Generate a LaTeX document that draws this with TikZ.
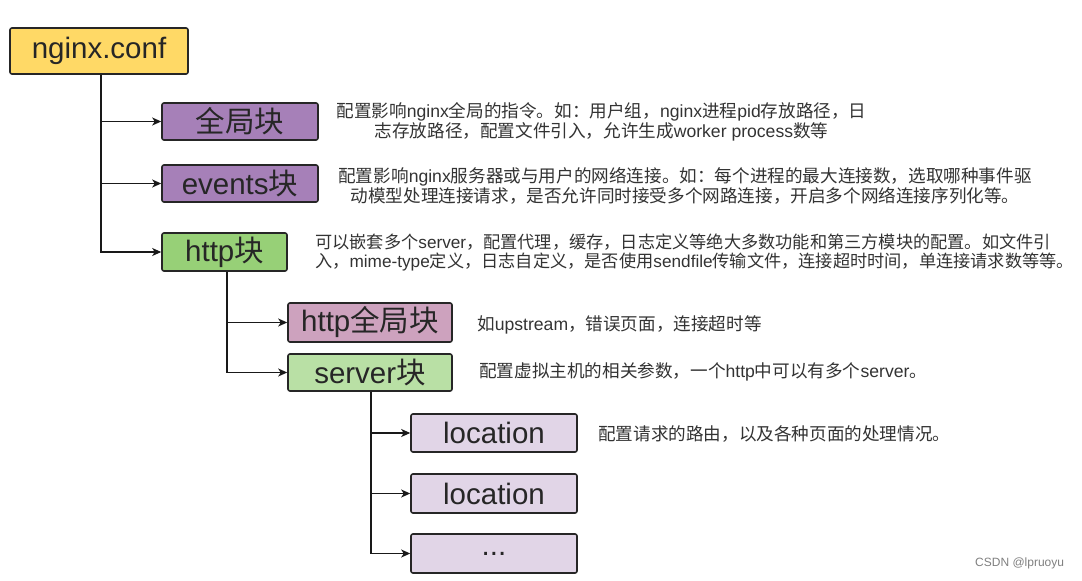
\documentclass[tikz,border=0pt]{standalone}
\usepackage{fontspec}
\setmainfont{Liberation Sans}
\newfontfamily\cjkfont{Noto Sans CJK SC}
\newcount\mycjkcnt
\XeTeXinterchartokenstate=1
\newXeTeXintercharclass\cjkcls
\mycjkcnt="3000
\loop \XeTeXcharclass\mycjkcnt=\cjkcls \advance\mycjkcnt by 1 \ifnum\mycjkcnt<"A000 \repeat
\mycjkcnt="FF00
\loop \XeTeXcharclass\mycjkcnt=\cjkcls \advance\mycjkcnt by 1 \ifnum\mycjkcnt<"FFF0 \repeat
\XeTeXinterchartoks 0 \cjkcls = {\begingroup\cjkfont}
\XeTeXinterchartoks 4095 \cjkcls = {\begingroup\cjkfont}
\XeTeXinterchartoks \cjkcls 0 = {\endgroup}
\XeTeXinterchartoks \cjkcls 4095 = {\endgroup}
\usetikzlibrary{arrows.meta}
\definecolor{cyellow}{HTML}{FFD966}
\definecolor{cpurple}{HTML}{A680B8}
\definecolor{cgreen}{HTML}{97D077}
\definecolor{cpink}{HTML}{CDA2BE}
\definecolor{clgreen}{HTML}{B9E0A5}
\definecolor{clav}{HTML}{E1D5E7}
\definecolor{ctext}{HTML}{333333}
\tikzset{
  blk/.style={draw=black!85, line width=1.6pt, rounded corners=2pt, inner sep=0pt,
    font=\fontsize{29.5}{32}\selectfont, text=black!85},
  desc/.style={font=\fontsize{17.6}{18.5}\selectfont, text=ctext, inner sep=0pt},
  arr/.style={line width=1.2pt, draw=black!90, -{Stealth[length=9pt,width=8pt,inset=2.5pt]}},
}
\begin{document}
\begin{tikzpicture}[x=1pt,y=-1pt]
\useasboundingbox[fill=white] (0,0) rectangle (1082,581);
\node[blk, fill=cyellow, minimum width=178pt, minimum height=46pt] (root) at (99,51) {nginx.conf};
\node[blk, fill=cpurple, minimum width=156pt, minimum height=37pt] (glob) at (240,121.5) {全局块};
\node[blk, fill=cpurple, minimum width=156pt, minimum height=37pt] (evt) at (240,183.5) {events块};
\node[blk, fill=cgreen, minimum width=125pt, minimum height=38pt] (http) at (224.5,252) {http块};
\node[blk, fill=cpink, minimum width=164pt, minimum height=39pt] (hglob) at (370,322.5) {http全局块};
\node[blk, fill=clgreen, minimum width=164pt, minimum height=37pt] (srv) at (370,372.5) {server块};
\node[blk, fill=clav, minimum width=166pt, minimum height=38pt] (loc1) at (494,433) {location};
\node[blk, fill=clav, minimum width=166pt, minimum height=39pt] (loc2) at (494,493.5) {location};
\node[blk, fill=clav, minimum width=166pt, minimum height=39pt] (dots) at (494,553.5) {...};

\draw[arr] ([xshift=2pt]root.south) |- (glob.west);
\draw[arr] ([xshift=2pt]root.south) |- (evt.west);
\draw[arr] ([xshift=2pt]root.south) |- (http.west);
\draw[arr] ([xshift=2.5pt]http.south) |- (hglob.west);
\draw[arr] ([xshift=2.5pt]http.south) |- (srv.west);
\draw[arr] ([xshift=1pt]srv.south) |- (loc1.west);
\draw[arr] ([xshift=1pt]srv.south) |- (loc2.west);
\draw[arr] ([xshift=1pt]srv.south) |- (dots.west);

\node[desc, align=center] (d1) at (601.5,122) {配置影响nginx全局的指令。如：用户组，nginx进程pid存放路径，日\\志存放路径，配置文件引入，允许生成worker process数等};
\node[desc, align=center] (d2) at (685,186) {配置影响nginx服务器或与用户的网络连接。如：每个进程的最大连接数，选取哪种事件驱\\动模型处理连接请求，是否允许同时接受多个网路连接，开启多个网络连接序列化等。};
\node[desc, font=\fontsize{17.2}{18.5}\selectfont, align=left, anchor=west] (d3) at (315,252.5) {可以嵌套多个server，配置代理，缓存，日志定义等绝大多数功能和第三方模块的配置。如文件引\\入，mime-type定义，日志自定义，是否使用sendfile传输文件，连接超时时间，单连接请求数等等。};
\node[desc, anchor=west] (d4) at (477,325) {如upstream，错误页面，连接超时等};
\node[desc, anchor=west] (d5) at (479,372) {配置虚拟主机的相关参数，一个http中可以有多个server。};
\node[desc, anchor=west] (d6) at (598,434) {配置请求的路由，以及各种页面的处理情况。};
\node[font=\fontsize{12}{14}\selectfont, text=black!50, anchor=west, inner sep=0pt] (wm) at (975,563) {CSDN @lpruoyu};
\end{tikzpicture}
\end{document}
